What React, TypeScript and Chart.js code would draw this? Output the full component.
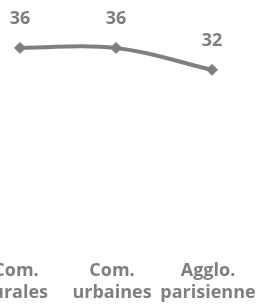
import React, { useEffect, useRef } from "react";
import { Chart, registerables } from "chart.js";

Chart.register(...registerables);

const categories: string[][] = [["Com.", "rurales"], ["Com.", "urbaines"], ["Agglo.", "parisienne"]];
const values: number[] = [36, 36, 32];

const GREY = "#7f7f7f";
const FONT_FAMILY = "'Open Sans', sans-serif";

const dataLabels = {
  id: "dataLabels",
  afterDatasetsDraw(chart: any) {
    const ctx = chart.ctx;
    const meta = chart.getDatasetMeta(0);
    ctx.save();
    ctx.font = `bold 18px ${FONT_FAMILY}`;
    ctx.fillStyle = GREY;
    ctx.textAlign = "center";
    ctx.textBaseline = "alphabetic";
    meta.data.forEach((pt: any, i: number) => {
      ctx.fillText(String(values[i]), pt.x, pt.y - 24);
    });
    ctx.restore();
  },
};

export default function App() {
  const ref = useRef<HTMLCanvasElement>(null);
  useEffect(() => {
    document.body.style.margin = "0";
    document.body.style.overflow = "hidden";
    const chart = new Chart(ref.current!, {
      type: "line",
      data: {
        labels: categories,
        datasets: [
          {
            data: values,
            borderColor: GREY,
            backgroundColor: GREY,
            borderWidth: 4,
            tension: 0.4,
            pointStyle: "rectRot",
            pointRadius: 5.5,
            pointBorderWidth: 1,
            pointBackgroundColor: GREY,
            pointBorderColor: GREY,
          },
        ],
      },
      options: {
        animation: false,
        responsive: true,
        maintainAspectRatio: false,
        layout: { autoPadding: false, padding: { top: 26, left: 0, right: 0, bottom: 0 } },
        plugins: { legend: { display: false }, tooltip: { enabled: false } },
        scales: {
          x: {
            offset: true,
            grid: { display: false, drawTicks: false },
            border: { display: false },
            ticks: {
              color: GREY,
              maxRotation: 0,
              autoSkip: false,
              padding: 15,
              labelOffset: -4,
              font: { family: FONT_FAMILY, size: 18, weight: "bold", lineHeight: 1.2 },
            },
            afterFit: (scale: any) => {
              scale.height = 63;
              scale.paddingLeft = 0;
              scale.paddingRight = 0;
            },
          },
          y: { display: false, min: 0, max: 40 },
        },
      },
      plugins: [dataLabels],
    });
    return () => chart.destroy();
  }, []);
  return (
    <div style={{ position: "fixed", left: 0, top: 0, width: 256, height: 308, overflow: "hidden", background: "#fff" }}>
      <div style={{ position: "absolute", left: -28, top: 0, width: 288, height: 308 }}>
        <canvas ref={ref} />
      </div>
    </div>
  );
}
